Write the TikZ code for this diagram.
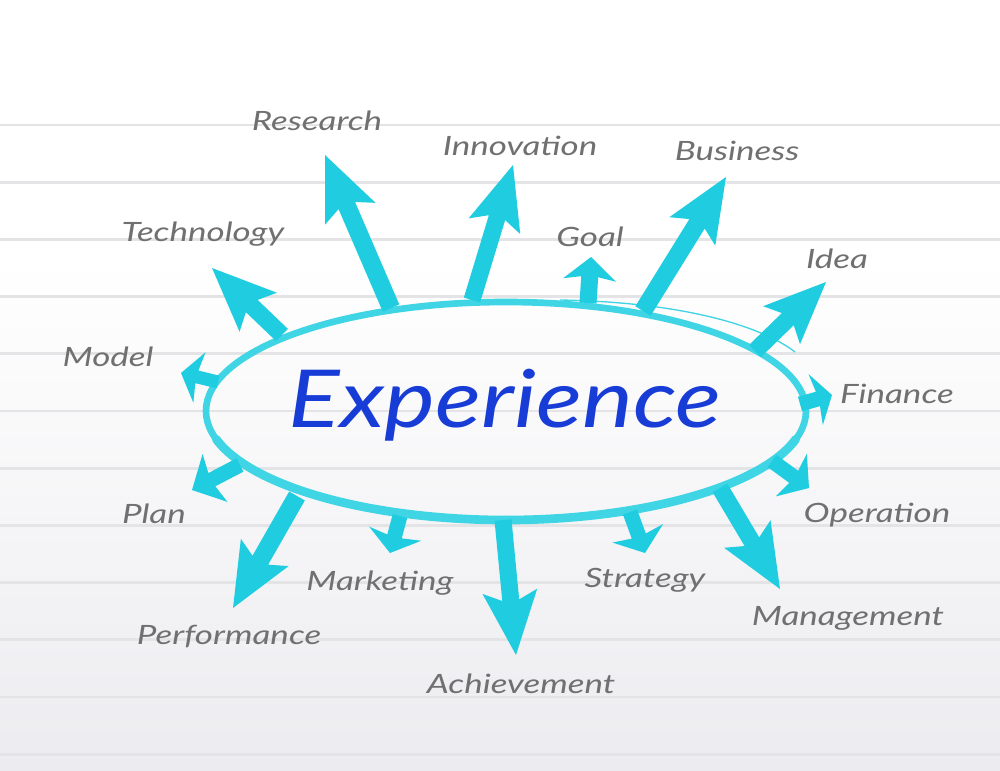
\documentclass[tikz,border=0pt]{standalone}
\usepackage{fontspec}
\usepackage{graphicx}
\setmainfont{Lato}
\usetikzlibrary{calc}
\definecolor{arrowc}{RGB}{32,205,224}
\definecolor{ringc}{RGB}{64,213,228}
\definecolor{rulec}{RGB}{228,228,230}
\definecolor{labelc}{RGB}{112,112,112}
\definecolor{bigc}{RGB}{24,60,214}
\definecolor{bgbot}{RGB}{236,236,240}
\newcommand{\fatarrow}[5]{%
  \pgfmathsetmacro\hwd{#3*0.375}%
  \pgfmathsetmacro\hhd{#4*0.375}%
  \pgfmathsetmacro\hld{#5*0.75}%
  \pgfmathsetmacro\hnd{#5*0.75*0.86}%
  \coordinate (hb) at ($(#2)!\hld pt!(#1)$);
  \coordinate (hn) at ($(#2)!\hnd pt!(#1)$);
  \fill[arrowc] ($(#1)!\hwd pt!90:(#2)$) -- ($(hn)!\hwd pt!90:(#2)$) -- ($(hb)!\hhd pt!90:(#2)$) -- (#2)
    -- ($(hb)!\hhd pt!-90:(#2)$) -- ($(hn)!\hwd pt!-90:(#2)$) -- ($(#1)!\hwd pt!-90:(#2)$) -- cycle;}
\newcommand{\wide}[1]{\scalebox{1.38}[1.05]{#1}}
\tikzset{
  lbl/.style={text=labelc, font=\fontsize{19}{24}\selectfont\itshape, inner sep=0pt},
  rule/.style={rulec, line width=2.2pt},
}
\begin{document}
\begin{tikzpicture}[x=0.75pt,y=-0.75pt]
\useasboundingbox (0,0) rectangle (1000,771);
% background
\fill[white] (0,0) rectangle (1000,260);
\shade[top color=white, bottom color=bgbot] (0,259) rectangle (1000,771);
% ruled lines
\foreach \k in {0,...,11} {
  \draw[rule] (0,{125+57.2*\k}) -- (1000,{125+57.2*\k});
}
% central ellipse
\coordinate (c) at (506,411);
\draw[ringc, line width=5pt] (c) ellipse [x radius=300, y radius=109];
\draw[ringc, line width=6.5pt, line cap=round] (c) ++(15:300 and 109) arc[start angle=15, end angle=165, x radius=300, y radius=109];
\draw[ringc, line width=1pt] (560,300) .. controls (680,302) and (760,325) .. (795,352);
\node[text=bigc, font=\fontsize{60}{70}\selectfont\itshape, inner sep=0pt] (exp) at (505,405) {\scalebox{1.2}[1]{Experience}};
% arrows: base, tip
\coordinate (b1) at (391,308);  \coordinate (t1) at (325,155);
\coordinate (b2) at (472,300);  \coordinate (t2) at (513,165);
\coordinate (b3) at (588,303);  \coordinate (t3) at (591,257);
\coordinate (b4) at (643,311);  \coordinate (t4) at (726,177);
\coordinate (b5) at (755,351);  \coordinate (t5) at (826,282);
\coordinate (b6) at (282,335);  \coordinate (t6) at (212,268);
\coordinate (b7) at (218,382);  \coordinate (t7) at (181,373);
\coordinate (b8) at (240,465);  \coordinate (t8) at (192,490);
\coordinate (b9) at (297,496);  \coordinate (t9) at (233,608);
\coordinate (b10) at (400,516); \coordinate (t10) at (390,553);
\coordinate (b11) at (503,520); \coordinate (t11) at (516,655);
\coordinate (b12) at (630,512); \coordinate (t12) at (645,553);
\coordinate (b13) at (720,488); \coordinate (t13) at (780,589);
\coordinate (b14) at (772,461); \coordinate (t14) at (809,488);
\coordinate (b15) at (800,404); \coordinate (t15) at (832,395);
\fatarrow{b1}{t1}{18}{55}{64}
\fatarrow{b2}{t2}{17}{54}{64}
\fatarrow{b3}{t3}{17}{53}{23}
\fatarrow{b4}{t4}{18}{54}{64}
\fatarrow{b5}{t5}{17}{53}{62}
\fatarrow{b6}{t6}{17}{54}{64}
\fatarrow{b7}{t7}{13}{52}{19}
\fatarrow{b8}{t8}{15}{54}{26}
\fatarrow{b9}{t9}{18}{55}{64}
\fatarrow{b10}{t10}{15}{54}{20}
\fatarrow{b11}{t11}{17}{55}{64}
\fatarrow{b12}{t12}{15}{54}{21}
\fatarrow{b13}{t13}{17}{54}{64}
\fatarrow{b14}{t14}{15}{53}{22}
\fatarrow{b15}{t15}{15}{53}{17}
% labels
\node[lbl] (research) at (317,121) {\wide{Research}};
\node[lbl] (innovation) at (520,146) {\wide{Innovation}};
\node[lbl] (business) at (737,151) {\wide{Business}};
\node[lbl] (goal) at (590,237) {\wide{Goal}};
\node[lbl] (idea) at (837,259) {\wide{Idea}};
\node[lbl] (technology) at (203,234) {\wide{Technology}};
\node[lbl] (model) at (108,357) {\wide{Model}};
\node[lbl] (finance) at (897,394) {\wide{Finance}};
\node[lbl] (operation) at (877,515) {\wide{Operation}};
\node[lbl] (plan) at (154,514) {\wide{Plan}};
\node[lbl] (marketing) at (380,583) {\wide{Marketing}};
\node[lbl] (strategy) at (645,580) {\wide{Strategy}};
\node[lbl] (management) at (848,618) {\wide{Management}};
\node[lbl] (performance) at (229,636) {\wide{Performance}};
\node[lbl] (achievement) at (521,684) {\wide{Achievement}};
\end{tikzpicture}
\end{document}
